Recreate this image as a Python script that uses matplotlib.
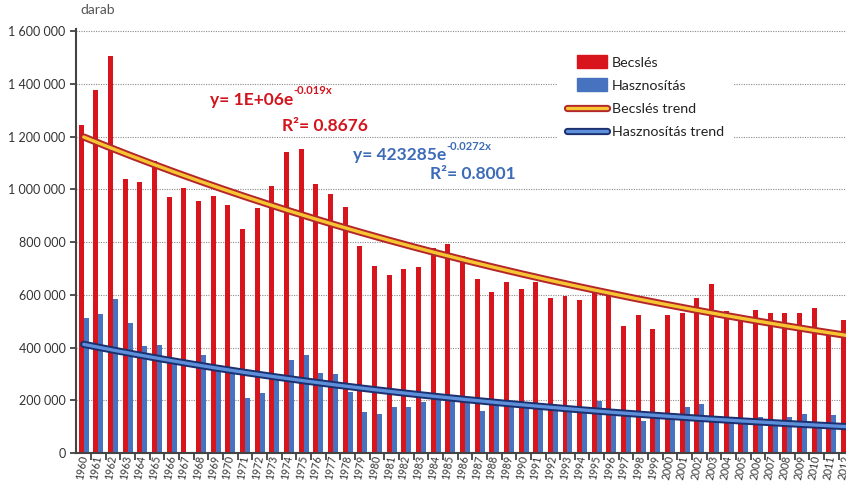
import numpy as np
import matplotlib
matplotlib.use('Agg')
import matplotlib.pyplot as plt
import matplotlib.patheffects as pe
from matplotlib.patches import Rectangle, Patch
from matplotlib.lines import Line2D
from matplotlib.legend_handler import HandlerPatch
from matplotlib.ticker import FuncFormatter, MultipleLocator

plt.rcParams['font.family'] = ['Lato', 'DejaVu Sans']

# data
years = list(range(1960, 2013))
becsles = [1242000, 1378000, 1506000, 1038000, 1027000, 1106000, 970000, 1004000, 955000, 974000,
           940000, 849000, 928000, 1011000, 1143000, 1151000, 1019000, 981000, 932000, 785000,
           709000, 675000, 698000, 706000, 776000, 791000, 748000, 659000, 612000, 650000,
           621000, 650000, 589000, 597000, 580000, 606000, 597000, 482000, 523000, 470000,
           523000, 532000, 589000, 640000, 538000, 504000, 542000, 532000, 532000, 532000,
           549000, 449000, 505000]
hasznositas = [513000, 528000, 584000, 494000, 404000, 411000, 343000, 0, 370000, 317000,
               306000, 207000, 226000, 294000, 351000, 373000, 302000, 298000, 230000, 155000,
               147000, 174000, 174000, 192000, 207000, 200000, 192000, 158000, 181000, 181000,
               174000, 170000, 170000, 166000, 174000, 196000, 151000, 143000, 121000, 136000,
               143000, 174000, 185000, 121000, 117000, 117000, 136000, 113000, 136000, 147000,
               106000, 143000, 120000]
# exponential trend coefficients (label shows 1E+06, rounded)
red_a, red_b = 1.221e6, -0.019
blue_a, blue_b = 423285, -0.0272

RED = '#d8141c'
BLUE = '#4672c0'

fig = plt.figure(figsize=(8.46, 4.82), dpi=100)
ax = fig.add_axes([76/846, 29/482, 1 - 76/846, 424/482])

x = np.arange(len(years))
w = 0.34
ax.bar(x - w/2, becsles, width=w, color=RED, zorder=2)
ax.bar(x + w/2, hasznositas, width=w, color=BLUE, zorder=2)

# trend lines
xt = np.linspace(0, len(years) - 1, 200)
red_trend = red_a * np.exp(red_b * (xt + 1))
blue_trend = blue_a * np.exp(blue_b * (xt + 1))
red_pe = [pe.Stroke(linewidth=5.2, foreground='#b3262a'), pe.Normal()]
blue_pe = [pe.Stroke(linewidth=5.2, foreground='#1c2f6e'), pe.Normal()]
ax.plot(xt, red_trend, color='#f7c531', lw=2.4, zorder=4, path_effects=red_pe,
        solid_capstyle='round')
ax.plot(xt, blue_trend, color='#5d8fdb', lw=2.4, zorder=4, path_effects=blue_pe,
        solid_capstyle='round')

ax.set_xlim(-0.53, 51.98)
ax.set_ylim(0, 1607600)
ax.yaxis.set_major_locator(MultipleLocator(200000))
ax.yaxis.set_major_formatter(FuncFormatter(lambda v, p: f"{int(v):,}".replace(',', ' ')))
ax.grid(axis='y', color='#8a8a8a', linestyle=(0, (1, 1.2)), lw=0.8, zorder=1)

ax.set_xticks(x)
ax.set_xticklabels([str(y) for y in years], rotation=80, ha='right', va='center',
                   rotation_mode='anchor', fontsize=7.6, color='#333333')
ax.set_xticks(x[:-1] + 0.5, minor=True)
ax.tick_params(axis='x', which='major', length=0, pad=2)
ax.tick_params(axis='x', which='minor', length=5, width=1.2, color='#333333')
ax.tick_params(axis='y', length=4, width=1.2, color='#333333', labelsize=9, labelcolor='#333333')

for s in ['top', 'right']:
    ax.spines[s].set_visible(False)
for s in ['left', 'bottom']:
    ax.spines[s].set_color('#444444')
    ax.spines[s].set_linewidth(1.5)

fig.text(80/846, 1 - 10/482, 'darab', fontsize=10, color='#555555', ha='left', va='center')

# trend equations
t1 = ax.text(8.6, 1340000, 'y= 1E+06e', color='#d3141d', fontsize=12.5, fontweight='bold',
             va='center', ha='left', zorder=5)
ax.annotate('-0.019x', xy=(1.0, 0.7), xycoords=t1, fontsize=8, fontweight='bold',
            color='#d3141d', va='bottom', ha='left')
ax.text(13.5, 1238000, 'R²= 0.8676', color='#d3141d', fontsize=12.5, fontweight='bold',
        va='center', ha='left', zorder=5)
t2 = ax.text(18.4, 1128000, 'y= 423285e', color='#3c6bb8', fontsize=12.5, fontweight='bold',
             va='center', ha='left', zorder=5)
ax.annotate('-0.0272x', xy=(1.0, 0.7), xycoords=t2, fontsize=8, fontweight='bold',
            color='#3c6bb8', va='bottom', ha='left')
ax.text(23.6, 1056000, 'R²= 0.8001', color='#3c6bb8', fontsize=12.5, fontweight='bold',
        va='center', ha='left', zorder=5)


def small_box(legend, orig_handle, xdescent, ydescent, width, height, fontsize):
    return Rectangle((-xdescent + 0.26 * width, -ydescent - 0.15 * height),
                     0.74 * width, 1.3 * height)


handles = [Patch(color=RED, label='Becslés'),
           Patch(color=BLUE, label='Hasznosítás'),
           Line2D([], [], color='#f7c531', lw=2.4, path_effects=red_pe,
                  solid_capstyle='round', label='Becslés trend'),
           Line2D([], [], color='#5d8fdb', lw=2.4, path_effects=blue_pe,
                  solid_capstyle='round', label='Hasznosítás trend')]
leg = ax.legend(handles=handles, loc='upper left', bbox_to_anchor=(551/846, 1 - 41/482),
                bbox_transform=fig.transFigure, fontsize=10.3, frameon=True, framealpha=1,
                edgecolor='none', facecolor='white', fancybox=False, handlelength=2.8,
                handletextpad=0.35, labelspacing=0.78, borderpad=0.6,
                handler_map={Patch: HandlerPatch(patch_func=small_box)})
leg.set_zorder(6)
for t in leg.get_texts():
    t.set_color('#222222')

fig.savefig('out.png', dpi=100)
